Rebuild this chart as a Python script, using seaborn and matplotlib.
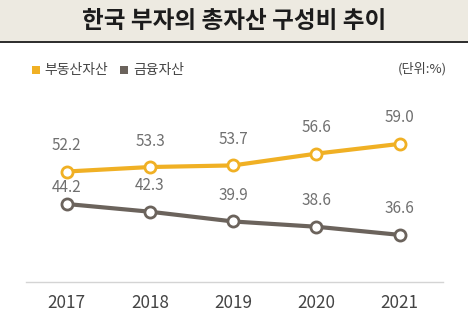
import matplotlib
matplotlib.use("Agg")
import matplotlib.pyplot as plt
from matplotlib.patches import Rectangle
import pandas as pd
import seaborn as sns

years = ["2017", "2018", "2019", "2020", "2021"]
real_estate = [52.2, 53.3, 53.7, 56.6, 59.0]
financial = [44.2, 42.3, 39.9, 38.6, 36.6]
series_names = ["부동산자산", "금융자산"]
title = "한국 부자의 총자산 구성비 추이"
unit_label = "(단위:%)"

sns.set_theme(style="white")
plt.rcParams["font.family"] = ["Noto Sans CJK KR", "DejaVu Sans"]

colors = {"부동산자산": "#F0B024", "금융자산": "#6B635C"}

df = pd.DataFrame({
    "year": years * 2,
    "idx": list(range(len(years))) * 2,
    "value": real_estate + financial,
    "series": [series_names[0]] * len(years) + [series_names[1]] * len(years),
})

fig = plt.figure(figsize=(4.68, 3.22), dpi=100)
fig.patch.set_facecolor("white")

# title band
fig.patches.append(Rectangle((0, 1 - 42 / 322), 1, 42 / 322, transform=fig.transFigure,
                             facecolor="#EDEAE1", edgecolor="none", zorder=0))
fig.add_artist(plt.Line2D([0, 1], [1 - 42 / 322, 1 - 42 / 322], transform=fig.transFigure,
                          color="#2B2B2B", linewidth=1.4))
fig.text(0.5, 1 - 21 / 322, title, ha="center", va="center", fontsize=17,
         fontweight="bold", color="#1C1C1C")

ax = fig.add_axes([26 / 468, 40 / 322, 417 / 468, 182 / 322])
for name in series_names:
    sub = df[df["series"] == name]
    sns.lineplot(data=sub, x="idx", y="value", ax=ax, color=colors[name],
                 linewidth=3.0, marker="o", markersize=8, mfc="white",
                 mec=colors[name], mew=2.0, legend=False, zorder=3)

# value labels above each point
offsets = {(1, 0): 16}
for si, name in enumerate(series_names):
    sub = df[df["series"] == name].reset_index(drop=True)
    for i, row in sub.iterrows():
        off = offsets.get((si, i), 26)
        ax.annotate(f"{row['value']:.1f}", (row["idx"], row["value"]),
                    xytext=(0, off * 0.72), textcoords="offset points",
                    ha="center", va="center", fontsize=11, color="#707070",
                    fontweight="light")

ax.set_xlim(-0.49, 4.52)
ax.set_ylim(25, 69.8)
ax.set_xticks(range(len(years)))
ax.set_xticklabels(years, fontsize=12.3, color="#444444")
ax.tick_params(axis="x", length=0, pad=9)
ax.set_yticks([])
ax.set_xlabel("")
ax.set_ylabel("")
for s in ["top", "left", "right"]:
    ax.spines[s].set_visible(False)
ax.spines["bottom"].set_color("#D4D4D4")
ax.spines["bottom"].set_linewidth(1.0)
ax.set_facecolor("none")

# legend
ly = 1 - 70 / 322
x = 32 / 468
for name, tx in zip(series_names, [44 / 468, 133 / 468]):
    fig.patches.append(Rectangle((x, ly - 4 / 322), 8 / 468, 8 / 322,
                                 transform=fig.transFigure, facecolor=colors[name],
                                 edgecolor="none"))
    fig.text(tx, ly, name, ha="left", va="center", fontsize=10, color="#444444")
    x = 120 / 468
fig.text(447 / 468, 1 - 69 / 322, unit_label, ha="right", va="center",
         fontsize=9.5, color="#444444")

fig.savefig("out.png", dpi=100)
